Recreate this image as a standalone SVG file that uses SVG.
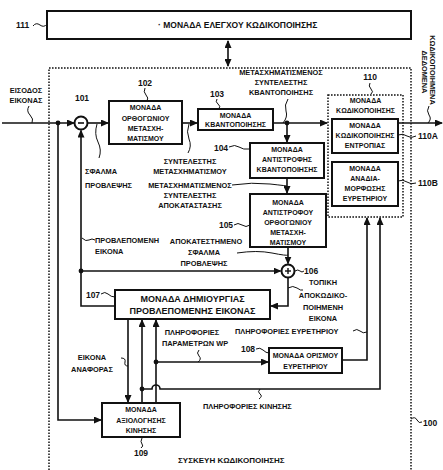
<svg xmlns="http://www.w3.org/2000/svg" width="443" height="470" viewBox="0 0 443 470">
<style>
text{font-family:"Liberation Sans",Arial,sans-serif;font-weight:bold;fill:#111}
.b{font-size:7px;text-anchor:middle}
.l{font-size:7.4px}
.c{text-anchor:middle}
.n{font-size:8.5px}
.box{fill:#fff;stroke:#111;stroke-width:2}
.dash{fill:none;stroke:#111;stroke-width:1.5;stroke-dasharray:1.6,1.4}
.w{fill:none;stroke:#111;stroke-width:1.6}
.a{marker-end:url(#ah)}
.t{fill:none;stroke:#111;stroke-width:1}
.dot{fill:#111}
</style>
<defs>
<marker id="ah" markerUnits="userSpaceOnUse" markerWidth="8" markerHeight="7" refX="7" refY="3.5" orient="auto-start-reverse"><path d="M0,0 L8,3.5 L0,7 z" fill="#111"/></marker>
</defs>

<g id="frame100">
<path class="dash" d="M49,470 V68 H411 V470"/>
<path class="t" d="M411,419 q4,-3 6,1 t5,2"/>
<text class="n" x="423" y="426">100</text>
<text class="n" x="178" y="463" style="font-size:8px">ΣΥΣΚΕΥΗ ΚΩΔΙΚΟΠΟΙΗΣΗΣ</text>
</g>

<g id="n111">
<rect class="box" x="47" y="11" width="364" height="28"/>
<text x="158" y="28" style="font-size:8.5px">· ΜΟΝΑΔΑ ΕΛΕΓΧΟΥ ΚΩΔΙΚΟΠΟΙΗΣΗΣ</text>
<text class="n" x="16" y="28">111</text>
<path class="t" d="M33,26 q3,-4 7,-1 t7,-1"/>
</g>

<g id="input">
<text class="l c" x="26" y="93">ΕΙΣΟΔΟΣ</text>
<text class="l c" x="26" y="103">ΕΙΚΟΝΑΣ</text>
<path class="t" d="M29,106 q-3,5 1,9 t2,8"/>
</g>

<g id="n101">
<circle cx="81" cy="123" r="6.5" fill="#fff" stroke="#111" stroke-width="2"/>
<line x1="78" y1="123" x2="84" y2="123" stroke="#111" stroke-width="1.6"/>
<text class="n c" x="82" y="101">101</text>
</g>

<g id="n102">
<rect class="box" x="109" y="101" width="73" height="43"/>
<text class="b" x="145.5" y="110">ΜΟΝΑΔΑ</text>
<text class="b" x="145.5" y="121">ΟΡΘΟΓΩΝΙΟΥ</text>
<text class="b" x="145.5" y="131">ΜΕΤΑΣΧΗ-</text>
<text class="b" x="145.5" y="141">ΜΑΤΙΣΜΟΥ</text>
<text class="n c" x="145" y="86">102</text>
<path class="t" d="M145,88 q-2,4 1,7 t1,6"/>
</g>

<g id="n103">
<rect class="box" x="198" y="109" width="75" height="21"/>
<text class="b" x="235.5" y="118">ΜΟΝΑΔΑ</text>
<text class="b" x="235.5" y="127">ΚΒΑΝΤΟΠΟΙΗΣΗΣ</text>
<text class="n c" x="217" y="97">103</text>
<path class="t" d="M217,99 q-2,3 1,5 t1,5"/>
</g>

<g id="n104">
<rect class="box" x="250" y="143" width="74" height="35"/>
<text class="b" x="287" y="151.5">ΜΟΝΑΔΑ</text>
<text class="b" x="287" y="161.5">ΑΝΤΙΣΤΡΟΦΗΣ</text>
<text class="b" x="287" y="171.5">ΚΒΑΝΤΟΠΟΙΗΣΗΣ</text>
<text class="n c" x="221" y="151">104</text>
<path class="t" d="M229,147 q6,-3 10,0 t11,2"/>
</g>

<g id="n105">
<rect class="box" x="250" y="194" width="76" height="53"/>
<text class="b" x="288" y="204.5">ΜΟΝΑΔΑ</text>
<text class="b" x="288" y="214.5">ΑΝΤΙΣΤΡΟΦΟΥ</text>
<text class="b" x="288" y="224.5">ΟΡΘΟΓΩΝΙΟΥ</text>
<text class="b" x="288" y="234.5">ΜΕΤΑΣΧΗ-</text>
<text class="b" x="288" y="244.5">ΜΑΤΙΣΜΟΥ</text>
<text class="n c" x="226" y="228">105</text>
<path class="t" d="M234,225 q4,-3 8,0 t8,0"/>
</g>

<g id="n106">
<circle cx="288" cy="271" r="6.5" fill="#fff" stroke="#111" stroke-width="2"/>
<line x1="285" y1="271" x2="291" y2="271" stroke="#111" stroke-width="1.4"/>
<line x1="288" y1="268" x2="288" y2="274" stroke="#111" stroke-width="1.4"/>
<text class="n" x="304" y="274">106</text>
<path class="t" d="M295,271 q3,-2 5,0 t4,0"/>
</g>

<g id="n107">
<rect class="box" x="115" y="290" width="155" height="29"/>
<text class="c" x="192.5" y="302" style="font-size:9px">ΜΟΝΑΔΑ ΔΗΜΙΟΥΡΓΙΑΣ</text>
<text class="c" x="192.5" y="314" style="font-size:9px">ΠΡΟΒΛΕΠΟΜΕΝΗΣ ΕΙΚΟΝΑΣ</text>
<text class="n c" x="93" y="298">107</text>
<path class="t" d="M101,294 q4,-3 7,0 t7,3"/>
</g>

<g id="n108">
<rect class="box" x="269" y="348" width="73" height="25"/>
<text class="b" x="305.5" y="357.5">ΜΟΝΑΔΑ ΟΡΙΣΜΟΥ</text>
<text class="b" x="305.5" y="368.5">ΕΥΡΕΤΗΡΙΟΥ</text>
<text class="n c" x="248" y="352">108</text>
<path class="t" d="M256,349 q4,-2 7,1 t6,3"/>
</g>

<g id="n109">
<rect class="box" x="102" y="403" width="78" height="34"/>
<text class="b" x="141" y="411.5">ΜΟΝΑΔΑ</text>
<text class="b" x="141" y="422.5">ΑΞΙΟΛΟΓΗΣΗΣ</text>
<text class="b" x="141" y="433">ΚΙΝΗΣΗΣ</text>
<text class="n c" x="141" y="456">109</text>
<path class="t" d="M142,438 q-2,4 0,6 t-1,4"/>
</g>

<g id="n110">
<rect class="dash" x="328" y="95" width="75" height="122"/>
<text class="n c" x="370" y="80">110</text>
<path class="t" d="M370,83 q-2,3 1,6 t0,5"/>
<text class="b" x="365.5" y="103">ΜΟΝΑΔΑ</text>
<text class="b" x="365.5" y="113">ΚΩΔΙΚΟΠΟΙΗΣΗΣ</text>
</g>

<g id="n110A">
<rect class="box" x="332" y="119" width="66" height="34"/>
<text class="b" x="365" y="128">ΜΟΝΑΔΑ</text>
<text class="b" x="365" y="138">ΚΩΔΙΚΟΠΟΙΗΣΗΣ</text>
<text class="b" x="365" y="148">ΕΝΤΡΟΠΙΑΣ</text>
<text class="n" x="418" y="139">110A</text>
<path class="t" d="M398,135 q5,-2 9,1 t9,0"/>
</g>

<g id="n110B">
<rect class="box" x="332" y="162" width="66" height="44"/>
<text class="b" x="365" y="171">ΜΟΝΑΔΑ</text>
<text class="b" x="365" y="181">ΑΝΑΔΙΑ-</text>
<text class="b" x="365" y="191">ΜΟΡΦΩΣΗΣ</text>
<text class="b" x="365" y="201">ΕΥΡΕΤΗΡΙΟΥ</text>
<text class="n" x="418" y="186">110B</text>
<path class="t" d="M398,181 q5,-2 9,1 t9,1"/>
</g>

<g id="output">
<text class="l c" transform="translate(430,70) rotate(90)">ΚΩΔΙΚΟΠΟΙΗΜΕΝΑ</text>
<text class="l c" transform="translate(422,72) rotate(90)">ΔΕΔΟΜΕΝΑ</text>
<path class="t" d="M429,106 q-3,5 0,9 t-1,8"/>
</g>

<g id="labels">
<text class="l" x="85" y="174">ΣΦΑΛΜΑ</text>
<text class="l" x="85" y="188">ΠΡΟΒΛΕΨΗΣ</text>
<path class="t" d="M97,124 q-3,10 1,18 t1,16"/>
<text class="l c" x="190" y="164">ΣΥΝΤΕΛΕΣΤΗΣ</text>
<text class="l c" x="190" y="174">ΜΕΤΑΣΧΗΜΑΤΙΣΜΟΥ</text>
<path class="t" d="M189,124 q-3,8 0,15 t-1,14"/>
<text class="l c" x="281" y="75">ΜΕΤΑΣΧΗΜΑΤΙΣΜΕΝΟΣ</text>
<text class="l c" x="281" y="85">ΣΥΝΤΕΛΕΣΤΗΣ</text>
<text class="l c" x="281" y="95">ΚΒΑΝΤΟΠΟΙΗΣΗΣ</text>
<path class="t" d="M288,99 q-4,6 -2,12 t-3,12"/>
<text class="l c" x="190" y="188">ΜΕΤΑΣΧΗΜΑΤΙΣΜΕΝΟΣ</text>
<text class="l c" x="190" y="198">ΣΥΝΤΕΛΕΣΤΗΣ</text>
<text class="l c" x="190" y="208">ΑΠΟΚΑΤΑΣΤΑΣΗΣ</text>
<path class="t" d="M232,185 q20,-3 38,-1 t17,2"/>
<text class="l" x="95" y="243">ΠΡΟΒΛΕΠΟΜΕΝΗ</text>
<text class="l" x="95" y="254">ΕΙΚΟΝΑ</text>
<path class="t" d="M82,238 q4,4 7,2 t6,0"/>
<text class="l c" x="206" y="244">ΑΠΟΚΑΤΕΣΤΗΜΕΝΟ</text>
<text class="l c" x="204" y="255">ΣΦΑΛΜΑ</text>
<text class="l c" x="204" y="266">ΠΡΟΒΛΕΨΗΣ</text>
<path class="t" d="M237,253 q20,-3 35,0 t16,2"/>
<text class="l c" x="323" y="285">ΤΟΠΙΚΗ</text>
<text class="l c" x="323" y="297.5">ΑΠΟΚΩΔΙΚΟ-</text>
<text class="l c" x="323" y="309.5">ΠΟΙΗΜΕΝΗ</text>
<text class="l c" x="323" y="321">ΕΙΚΟΝΑ</text>
<path class="t" d="M288,288 q5,-3 9,0 t6,2"/>
<text class="l" x="235" y="334">ΠΛΗΡΟΦΟΡΙΕΣ ΕΥΡΕΤΗΡΙΟΥ</text>
<path class="t" d="M353,331 q4,-3 7,0 t7,1"/>
<text class="l c" x="192" y="335">ΠΛΗΡΟΦΟΡΙΕΣ</text>
<text class="l c" x="195" y="346">ΠΑΡΑΜΕΤΡΩΝ WP</text>
<path class="t" d="M199,350 q-3,3 0,6 t-1,6"/>
<text class="l c" x="92" y="360">ΕΙΚΟΝΑ</text>
<text class="l c" x="92" y="372">ΑΝΑΦΟΡΑΣ</text>
<path class="t" d="M121,358 q5,0 4,4 t3,4"/>
<text class="l" x="203" y="409">ΠΛΗΡΟΦΟΡΙΕΣ ΚΙΝΗΣΗΣ</text>
<path class="t" d="M260,389 q-3,3 0,5 t-1,5"/>
</g>

<g id="connectors">
<line class="w" x1="228" y1="41" x2="228" y2="66" style="marker-start:url(#ah);marker-end:url(#ah)"/>
<path class="w a" d="M2,123 H74"/>
<path class="w a" d="M58,123 V420 H101"/>
<path class="w a" d="M87.5,123 H108"/>
<path class="w a" d="M115,306 H81 V130.5"/>
<path class="w a" d="M81,271 H280.5"/>
<path class="w a" d="M182,123 H197"/>
<path class="w a" d="M273,123 H327"/>
<path class="w a" d="M287,123 V142"/>
<path class="w a" d="M287,178 V193"/>
<path class="w a" d="M288,247 V263.5"/>
<path class="w a" d="M288,277.5 V306 H271"/>
<path class="w a" d="M398,123 H442"/>
<path class="w a" d="M128,319 V402"/>
<path class="w a" d="M142,403 V320"/>
<path class="w a" d="M156,403 V320"/>
<path class="w a" d="M156,362 H268"/>
<path class="w a" d="M142,389 H152 A4,4 0 0 1 160,389 H380 V218"/>
<path class="w a" d="M342,360 H367 V218"/>
<circle class="dot" cx="58" cy="123" r="2.4"/>
<circle class="dot" cx="81" cy="271" r="2.4"/>
<circle class="dot" cx="287" cy="123" r="2.4"/>
<circle class="dot" cx="156" cy="362" r="2.4"/>
<circle class="dot" cx="142" cy="389" r="2.4"/>
</g>
</svg>
